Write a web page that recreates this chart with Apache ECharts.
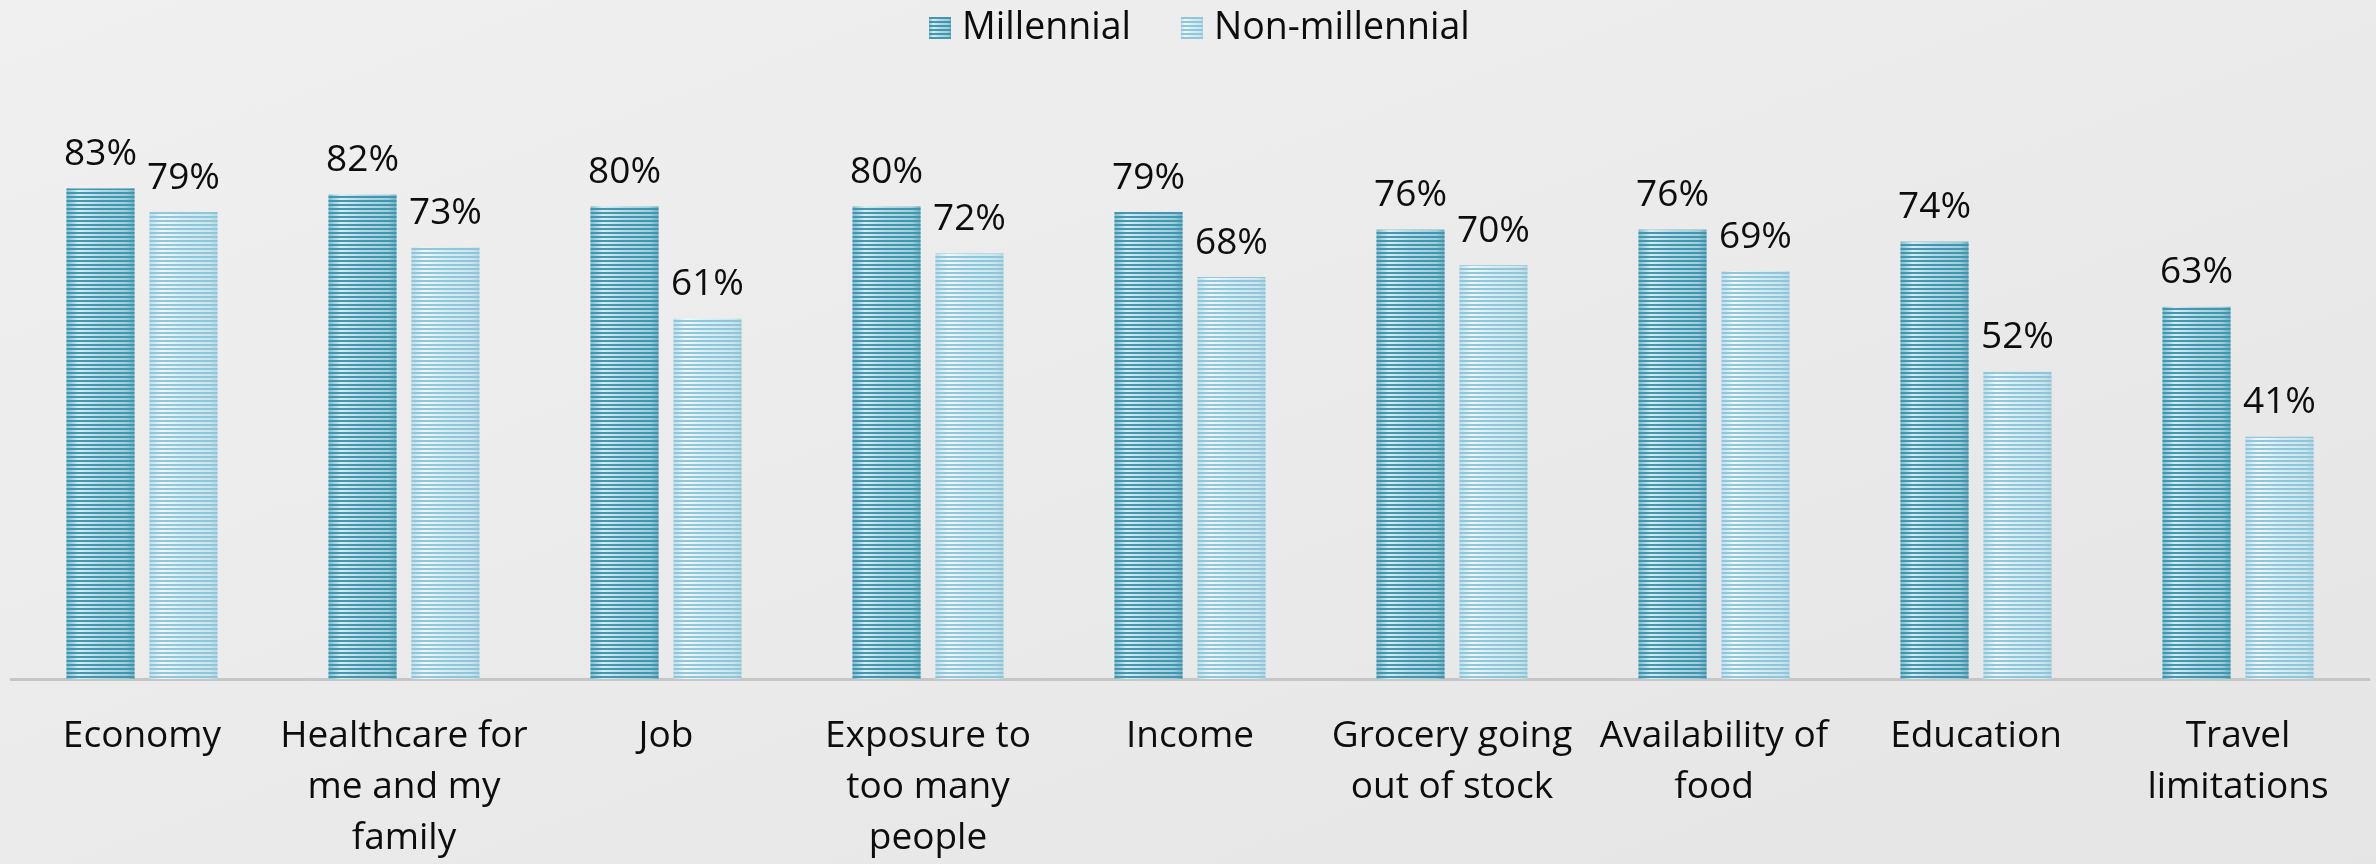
<!DOCTYPE html>
<html>
<head>
<meta charset="utf-8">
<script src="https://cdn.jsdelivr.net/npm/echarts@6/dist/echarts.min.js"></script>
<style>
  html, body { margin: 0; padding: 0; }
  body {
    width: 2376px; height: 864px; overflow: hidden;
    background: linear-gradient(160deg, #f0f0f0 0%, #ebebeb 45%, #e5e5e5 100%);
  }
  #chart { width: 2376px; height: 864px; }
</style>
</head>
<body>
<div id="chart"></div>
<script>
// Concerns ranked by share of respondents, split by generation
const categories = [
  'Economy',
  'Healthcare for\nme and my\nfamily',
  'Job',
  'Exposure to\ntoo many\npeople',
  'Income',
  'Grocery going\nout of stock',
  'Availability of\nfood',
  'Education',
  'Travel\nlimitations'
];
const seriesNames = ['Millennial', 'Non-millennial'];
const millennial = [83, 82, 80, 80, 79, 76, 76, 74, 63];
const nonMillennial = [79, 73, 61, 72, 68, 70, 69, 52, 41];

const FONT = '"Open Sans", "Noto Sans", sans-serif';

// Horizontal glossy gradient under a striped decal
function glossy(stops) {
  return {
    type: 'linear', x: 0, y: 0, x2: 1, y2: 0,
    colorStops: stops.map(([offset, color]) => ({ offset, color }))
  };
}
function stripes(color) {
  return {
    symbol: 'rect',
    symbolSize: 1,
    dashArrayX: [1, 0],
    dashArrayY: [2, 2],
    color: color
  };
}

const labelStyle = {
  show: true,
  position: 'top',
  distance: 15.5,
  formatter: '{c}%',
  fontFamily: FONT,
  fontSize: 37,
  lineHeight: 37,
  color: '#0d0d0d'
};

const chart = echarts.init(document.getElementById('chart'), null, { renderer: 'canvas' });
chart.setOption({
  backgroundColor: 'transparent',
  animation: false,
  legend: {
    top: 3,
    left: 924,
    itemWidth: 22,
    itemHeight: 22,
    itemGap: 50,
    icon: 'rect',
    textStyle: {
      fontFamily: FONT,
      fontSize: 37.5,
      lineHeight: 40,
      color: '#0d0d0d',
      padding: [0, 0, 0, 6]
    },
    data: seriesNames
  },
  grid: { left: 11, right: 7, top: 88, bottom: 180.5, containLabel: false },
  xAxis: {
    type: 'category',
    data: categories,
    axisLine: { show: true, lineStyle: { color: '#c6c6c6', width: 3 } },
    axisTick: { show: false },
    axisLabel: {
      interval: 0,
      margin: 32,
      fontFamily: FONT,
      fontSize: 37,
      lineHeight: 51,
      color: '#0d0d0d'
    }
  },
  yAxis: {
    type: 'value',
    min: 0,
    max: 100,
    show: false,
    splitLine: { show: false }
  },
  series: [
    {
      name: seriesNames[0],
      type: 'bar',
      data: millennial,
      barWidth: 68,
      barGap: '22%',
      itemStyle: {
        color: glossy([[0, '#7fbccd'], [0.18, '#d6edf3'], [0.5, '#b4d9e4'], [0.88, '#a0cedb'], [1, '#6eafc2']]),
        decal: stripes('rgba(60,148,173,0.95)')
      },
      label: labelStyle
    },
    {
      name: seriesNames[1],
      type: 'bar',
      data: nonMillennial,
      barWidth: 68,
      itemStyle: {
        color: glossy([[0, '#bcdfea'], [0.18, '#f0f8fb'], [0.5, '#d9edf3'], [0.88, '#cde6ee'], [1, '#b3d9e5']]),
        decal: stripes('rgba(140,196,216,0.95)')
      },
      label: labelStyle
    }
  ]
});
</script>
</body>
</html>
